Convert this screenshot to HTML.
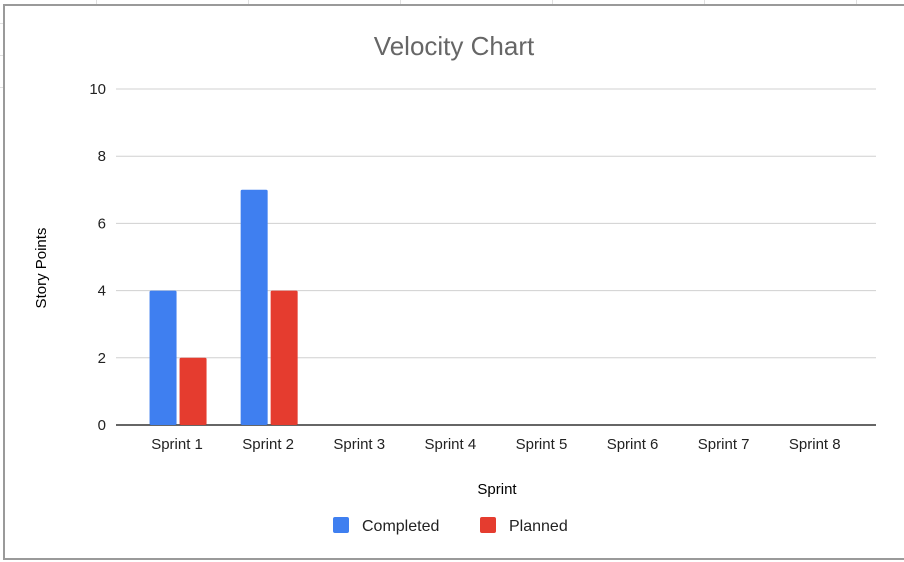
<!DOCTYPE html>
<html><head><meta charset="utf-8"><style>
html,body{margin:0;padding:0;background:#fff;}
svg{display:block;font-family:"Liberation Sans",Arial,sans-serif;}
</style></head><body>
<svg id="chart" width="904" height="562">
  <g stroke="#e0e0e0" stroke-width="1">
    <line x1="96.5" y1="0" x2="96.5" y2="4"/><line x1="248.5" y1="0" x2="248.5" y2="4"/>
    <line x1="400.5" y1="0" x2="400.5" y2="4"/><line x1="552.5" y1="0" x2="552.5" y2="4"/>
    <line x1="704.5" y1="0" x2="704.5" y2="4"/><line x1="856.5" y1="0" x2="856.5" y2="4"/>
    <line x1="0" y1="23.5" x2="3" y2="23.5"/><line x1="0" y1="55.5" x2="3" y2="55.5"/>
    <line x1="0" y1="87.5" x2="3" y2="87.5"/>
  </g>
  <path d="M904,5 H4 V559 H904" fill="none" stroke="#9a9a9a" stroke-width="2"/>
  <text x="454" y="55" text-anchor="middle" font-size="26" fill="#666">Velocity Chart</text>
  <text transform="translate(46,268) rotate(-90)" text-anchor="middle" font-size="15" fill="#000">Story Points</text>
  <text x="497" y="494" text-anchor="middle" font-size="15" fill="#000">Sprint</text>
  <g id="grid"></g><g id="bars"></g><g id="xlabels"></g>
  <g>
    <g>
      <rect x="333" y="517" width="16" height="16" rx="2" fill="#3f7ff0"/>
      <text x="362" y="531" font-size="16" fill="#222">Completed</text>
    </g>
    <g>
      <rect x="480" y="517" width="16" height="16" rx="2" fill="#e53c2f"/>
      <text x="509" y="531" font-size="16" fill="#222">Planned</text>
    </g>
  </g>
</svg>
<script>
const categories = ["Sprint 1","Sprint 2","Sprint 3","Sprint 4","Sprint 5","Sprint 6","Sprint 7","Sprint 8"];
const completed = [4,7,0,0,0,0,0,0];
const planned = [2,4,0,0,0,0,0,0];
const yTicks = [0,2,4,6,8,10];
const NS="http://www.w3.org/2000/svg";
const x0=132.5, step=91.1, yBase=425, yTop=89, yMax=10;
function y(v){return yBase-(v/yMax)*(yBase-yTop);}
function xc(i){return x0+step*(i+0.5);}
function mk(t,a,p){const e=document.createElementNS(NS,t);for(const k in a)e.setAttribute(k,a[k]);p.appendChild(e);return e;}
const grid=document.getElementById('grid');
yTicks.forEach(v=>{
  const l=mk('line',{x1:116,x2:876,y1:y(v),y2:y(v),stroke:v===0?'#333':'#d0d0d0','stroke-width':v===0?1.5:1},grid);
  
  
  const t=mk('text',{x:106,y:y(v)+5,'text-anchor':'end','font-size':15,fill:'#222'},grid);
  t.textContent=v;
  
  
});
const bars=document.getElementById('bars');
const bw=27, gap=3;
categories.forEach((c,i)=>{
  [[completed,'#3f7ff0',-1,'completed'],[planned,'#e53c2f',1,'planned']].forEach(([arr,col,s,nm])=>{
    const v=arr[i]; if(!v) return;
    const bx = s<0 ? xc(i)-gap/2-bw : xc(i)+gap/2;
    const r=mk('rect',{x:bx,y:y(v),width:bw,height:yBase-y(v),fill:col,rx:1.5},bars);
    
    
  });
  const t=mk('text',{x:xc(i)-1,y:449,'text-anchor':'middle','font-size':15,fill:'#222'},document.getElementById('xlabels'));
  t.textContent=c;
  
  
});
</script>
</body></html>
